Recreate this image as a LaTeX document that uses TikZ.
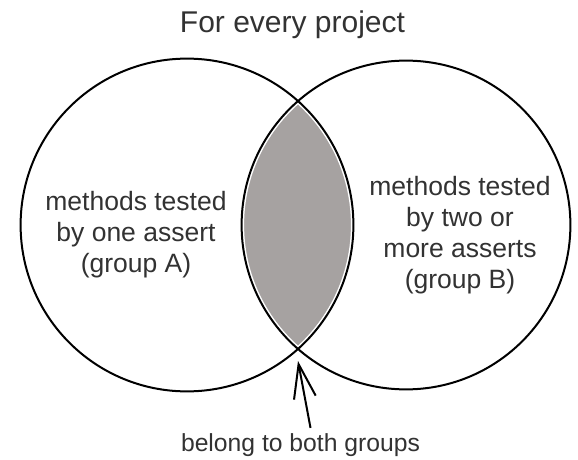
\documentclass[tikz,border=0pt]{standalone}
\usepackage{fontspec}
\setmainfont{Liberation Sans}
\usetikzlibrary{arrows.meta}
\definecolor{lensgray}{RGB}{166,162,161}
\definecolor{txt}{RGB}{50,50,50}
\tikzset{
  setcircle/.style={circle, draw=black, line width=2pt, inner sep=0pt},
  bodytext/.style={text=txt, align=center, inner sep=0pt, font=\fontsize{26.5}{31}\selectfont},
  pointer/.style={line width=2pt, -{Straight Barb[length=34pt,width=22pt,line width=2pt]}}
}
\begin{document}
\begin{tikzpicture}[x=1pt,y=-1pt]
\useasboundingbox (0,0) rectangle (578,460);
% lens fill
\begin{scope}
  \clip (187,225) circle (166.4pt);
  \fill[lensgray] (406,225) circle (164.4pt);
  \draw[white, line width=5pt] (187,225) circle (166.4pt);
  \draw[white, line width=5pt] (406,225) circle (164.4pt);
\end{scope}
\node[setcircle, minimum size=332.8pt] (A) at (187,225) {};
\node[setcircle, minimum size=328.8pt] (B) at (406,225) {};
\node[text=txt, inner sep=0pt, anchor=base, font=\fontsize{30}{36}\selectfont] (title) at (292.5,33) {For every project};
\node[bodytext] (ta) at (136,235) {methods tested\\by one assert\\(group A)};
\node[bodytext] (tb) at (460,235) {methods tested\\by two or\\more asserts\\(group B)};
\node[text=txt, inner sep=0pt, anchor=base, font=\fontsize{24.7}{30}\selectfont] (both) at (300.5,451) {belong to both groups};
\coordinate (tip) at (298,361);
\draw[pointer] ([xshift=10pt,yshift=5pt]both.north) -- (tip);
\end{tikzpicture}
\end{document}
